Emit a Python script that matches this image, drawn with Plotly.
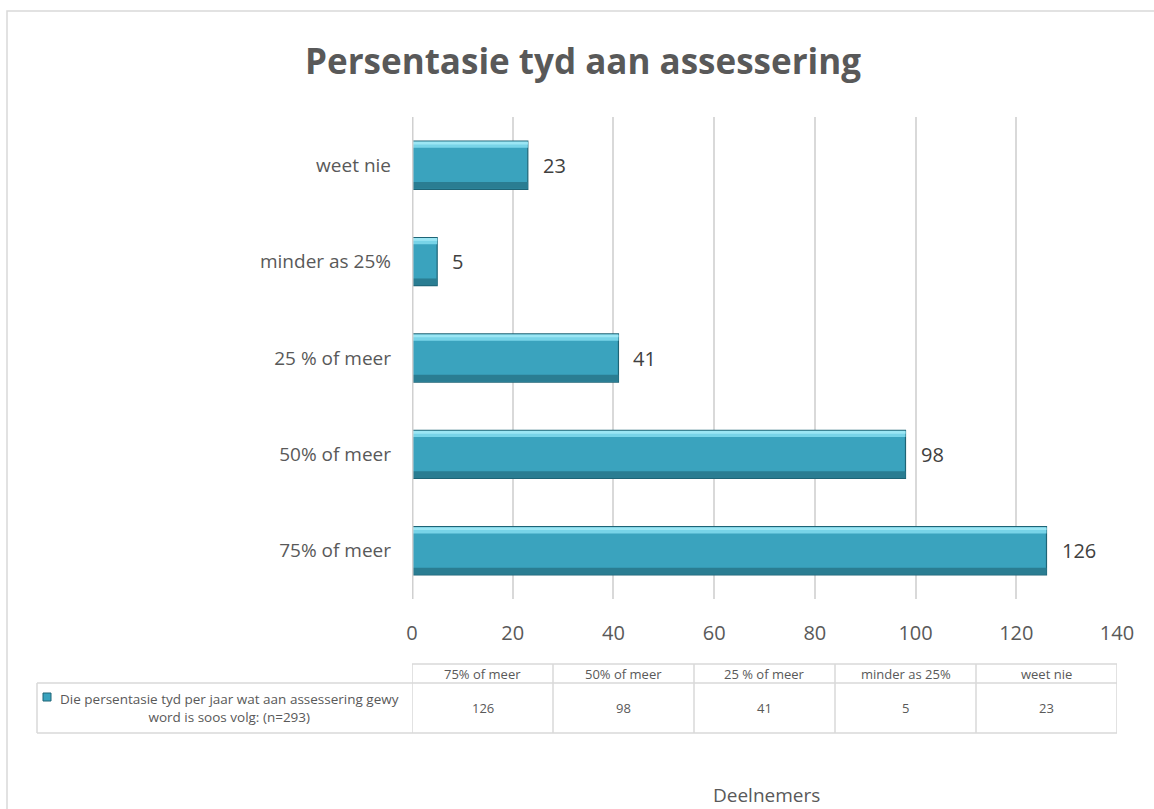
import plotly.graph_objects as go

categories = ["75% of meer", "50% of meer", "25 % of meer", "minder as 25%", "weet nie"]
values = [126, 98, 41, 5, 23]
x_ticks = [0, 20, 40, 60, 80, 100, 120, 140]
series_name = "Die persentasie tyd per jaar wat aan assessering gewy<br>word is soos volg: (n=293)"
title_text = "Persentasie tyd aan assessering"
axis_title = "Deelnemers"

FONT = "Open Sans"
GRAY = "#595959"

fig = go.Figure()
# main bar body
fig.add_trace(go.Bar(y=categories, x=values, orientation="h", width=0.5,
                     marker=dict(color="#3AA3BE", line=dict(color="#1E6476", width=1.2)),
                     hoverinfo="skip", showlegend=False))
# top highlight
fig.add_trace(go.Bar(y=categories, x=values, orientation="h", width=0.06, offset=0.18,
                     marker=dict(color="#78D4E8", line=dict(width=0)),
                     hoverinfo="skip", showlegend=False))
fig.add_trace(go.Bar(y=categories, x=values, orientation="h", width=0.03, offset=0.215,
                     marker=dict(color="#9BE6F4", line=dict(width=0)),
                     hoverinfo="skip", showlegend=False))
# bottom shade
fig.add_trace(go.Bar(y=categories, x=values, orientation="h", width=0.07, offset=-0.245,
                     marker=dict(color="#2A7D92", line=dict(width=0)),
                     hoverinfo="skip", showlegend=False))

# data labels
for c, v in zip(categories, values):
    fig.add_annotation(x=v, y=c, xref="x", yref="y", text=str(v), showarrow=False,
                       xanchor="left", yanchor="middle", xshift=13,
                       font=dict(family=FONT, size=20, color="#404040"))

def px_x(p):
    return (p - 412) / 705

def px_y(p):
    return (599 - p) / 482

# outer frame
fig.add_shape(type="rect", xref="paper", yref="paper", x0=px_x(7), x1=px_x(1170), y0=px_y(830), y1=px_y(11),
              line=dict(color="#D9D9D9", width=1.5), layer="below")

# data table below the axis
xmax = x_ticks[-1]
ncol = len(categories)
colw = xmax / ncol
y_head_top, y_mid, y_bot = px_y(664), px_y(683), px_y(733)
tcol = "#D9D9D9"
fig.add_shape(type="line", xref="x", yref="paper", x0=0, x1=xmax, y0=y_head_top, y1=y_head_top, line=dict(color=tcol, width=1.5))
for yy in (y_mid, y_bot):
    fig.add_shape(type="line", xref="paper", yref="paper", x0=px_x(37), x1=1, y0=yy, y1=yy, line=dict(color=tcol, width=1.5))
fig.add_shape(type="line", xref="paper", yref="paper", x0=px_x(37), x1=px_x(37), y0=y_mid, y1=y_bot, line=dict(color=tcol, width=1.5))
for i in range(ncol + 1):
    fig.add_shape(type="line", xref="x", yref="paper", x0=i * colw, x1=i * colw, y0=y_head_top, y1=y_bot, line=dict(color=tcol, width=1.5))
for i, (c, v) in enumerate(zip(categories, values)):
    xc = (i + 0.5) * colw
    fig.add_annotation(x=xc, y=(y_head_top + y_mid) / 2, xref="x", yref="paper", text=c, showarrow=False,
                       xanchor="center", yanchor="middle", font=dict(family=FONT, size=13, color=GRAY))
    fig.add_annotation(x=xc, y=(y_mid + y_bot) / 2, xref="x", yref="paper", text=str(v), showarrow=False,
                       xanchor="center", yanchor="middle", font=dict(family=FONT, size=13, color=GRAY))
# legend key + series name
fig.add_shape(type="rect", xref="paper", yref="paper", x0=px_x(43), x1=px_x(51),
              y0=px_y(701), y1=px_y(693), fillcolor="#3AA3BE", line=dict(color="#1E6476", width=1))
fig.add_annotation(x=px_x(229), y=(y_mid + y_bot) / 2, xref="paper", yref="paper", text=series_name,
                   showarrow=False, align="center", xanchor="center", yanchor="middle",
                   font=dict(family=FONT, size=13.5, color=GRAY))
# axis title
fig.add_annotation(x=px_x(766), y=px_y(795), xref="paper", yref="paper", text=axis_title,
                   showarrow=False, xanchor="center", yanchor="middle",
                   font=dict(family=FONT, size=19, color=GRAY))

fig.update_layout(
    width=1154, height=809,
    margin=dict(l=412, r=37, t=117, b=210),
    paper_bgcolor="white", plot_bgcolor="white",
    barmode="overlay",
    title=dict(text="<b>" + title_text + "</b>", x=583 / 1154, xanchor="center", y=1 - 62 / 809, yanchor="middle",
               font=dict(family=FONT, size=35, color=GRAY)),
    xaxis=dict(range=[0, xmax], tickvals=x_ticks, showgrid=True, gridcolor="#D9D9D9", gridwidth=1.5,
               zeroline=False, showline=False, tickfont=dict(family=FONT, size=20, color=GRAY),
               ticklabelstandoff=20),
    yaxis=dict(categoryorder="array", categoryarray=categories, showgrid=False, zeroline=False,
               tickfont=dict(family=FONT, size=19, color=GRAY), ticklabelstandoff=20, showline=False),
    showlegend=False,
)
# vertical axis line at x=0
fig.add_shape(type="line", xref="x", yref="paper", x0=0, x1=0, y0=0, y1=1, line=dict(color="#D0D0D0", width=3))

fig.write_html("out.html", config={"displayModeBar": False},
               post_script="document.body.style.margin='0';")
